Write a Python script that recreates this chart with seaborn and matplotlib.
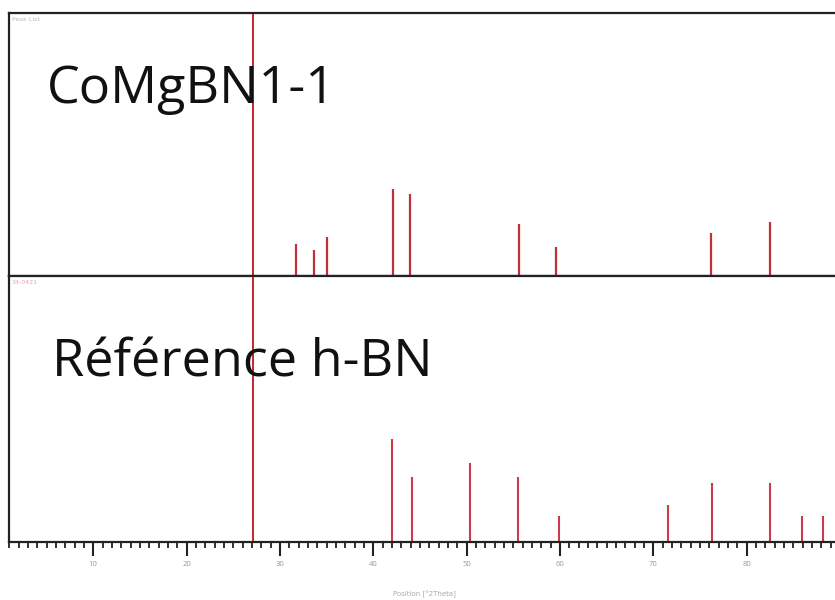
import seaborn as sns
import matplotlib.pyplot as plt
import pandas as pd
from matplotlib.ticker import MultipleLocator

sns.set_style('white')
plt.rcParams['font.family'] = ['Open Sans', 'DejaVu Sans']

# peak positions (deg 2theta) and relative intensities
sample_pos = [31.75, 33.7, 35.05, 42.15, 43.95, 55.65, 59.6, 76.2, 82.5]
sample_int = [37, 30, 45, 100, 94, 60, 33, 50, 62]
ref_pos = [42.0, 44.1, 50.4, 55.5, 59.85, 71.55, 76.3, 82.5, 85.9, 88.2]
ref_int = [100, 63, 77, 63, 25, 36, 57, 57, 25, 25]
marker_pos = 27.1

sample = pd.DataFrame({'pos': sample_pos, 'int': sample_int})
ref = pd.DataFrame({'pos': ref_pos, 'int': ref_int})

fig = plt.figure(figsize=(8.35, 6), dpi=100)
ax1 = fig.add_axes([0.011, 0.54, 0.995, 0.438])
ax2 = fig.add_axes([0.011, 0.097, 0.995, 0.443])

ax1.vlines(sample['pos'], 0, sample['int'], color='#c0303a', lw=1.6)
ax2.vlines(ref['pos'], 0, ref['int'], color='#cc3b4a', lw=1.5)

ax1.set_ylim(0, 303)
ax2.set_ylim(0, 259)
for ax in (ax1, ax2):
    ax.set_xlim(1, 90)
    ax.axvline(marker_pos, color='#c8232c', lw=1.4)
    ax.set_yticks([])
    ax.spines['right'].set_visible(False)
    for s in ('left', 'top', 'bottom'):
        ax.spines[s].set_color('#222222')
        ax.spines[s].set_linewidth(1.6)

ax1.set_xticks([])
ax2.xaxis.set_major_locator(MultipleLocator(10))
ax2.xaxis.set_minor_locator(MultipleLocator(1))
ax2.tick_params(axis='x', which='major', direction='out', length=10, width=1.5,
                color='#222222', labelsize=5.5, labelcolor='#999999', pad=4, bottom=True)
ax2.tick_params(axis='x', which='minor', direction='out', length=4, width=1.3,
                color='#222222', bottom=True)
ax2.set_xlabel('Position [°2Theta]', fontsize=5, color='#aaaaaa', labelpad=16,
               family='DejaVu Sans')

ax1.text(0.003, 0.985, 'Peak List', transform=ax1.transAxes, fontsize=4.5,
         color='#bbbbbb', va='top', family='DejaVu Sans')
ax2.text(0.003, 0.985, '34-0421', transform=ax2.transAxes, fontsize=4.5,
         color='#f0a0a8', va='top', family='DejaVu Sans')

ax1.text(0.045, 0.658, 'CoMgBN1-1', transform=ax1.transAxes, fontsize=37.5,
         color='#111111', va='baseline')
ax2.text(0.051, 0.621, 'Référence h-BN', transform=ax2.transAxes, fontsize=37.5,
         color='#111111', va='baseline')

fig.savefig('out.png', dpi=100)
